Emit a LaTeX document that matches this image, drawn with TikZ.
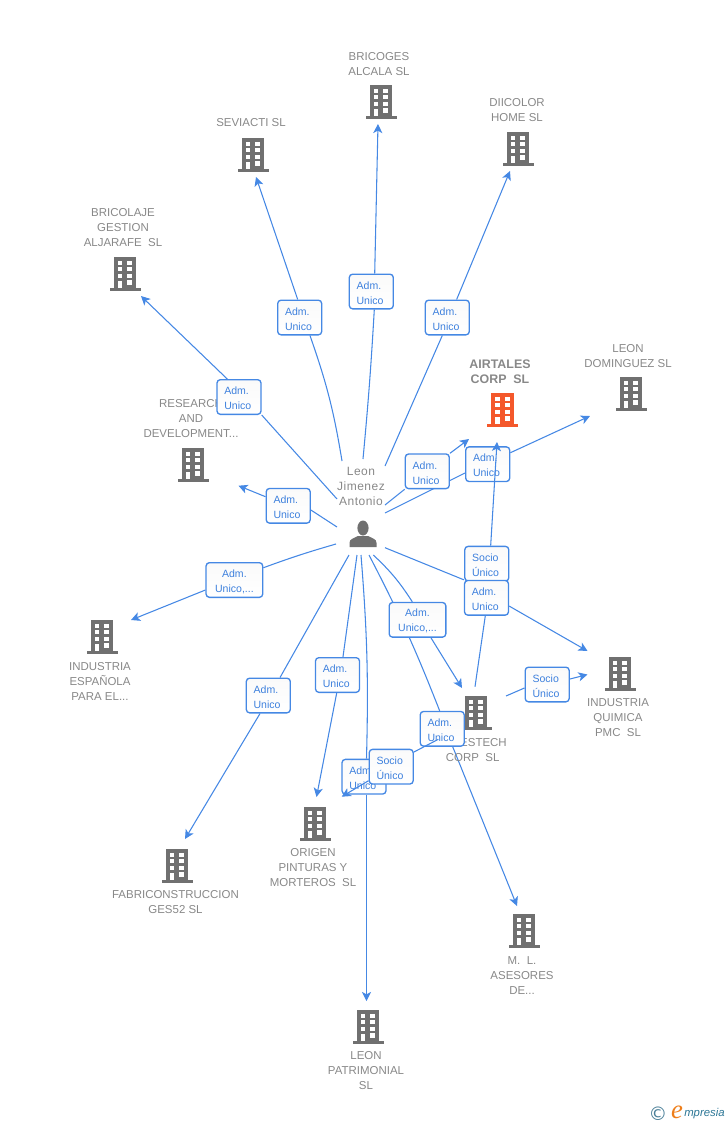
\documentclass[tikz,border=0pt]{standalone}
\usepackage{fontspec}
\setmainfont{Liberation Sans}
\newfontfamily\serifit{Liberation Serif}
\newfontfamily\dejav{DejaVu Sans}
\newfontfamily\spaced[LetterSpace=4]{Liberation Sans}
\usetikzlibrary{arrows.meta,backgrounds}
\pgfdeclarelayer{top}
\pgfsetlayers{background,main,top}
\definecolor{lnblue}{HTML}{4588E4}
\definecolor{txblue}{HTML}{3D80DD}
\definecolor{grey}{HTML}{888888}
\definecolor{icongrey}{HTML}{707070}
\definecolor{iconorange}{HTML}{F4582B}
\definecolor{boxtop}{HTML}{FAFAFA}
\definecolor{logoblue}{HTML}{4A7F98}
\definecolor{logoteal}{HTML}{2A7595}
\definecolor{logoorange}{HTML}{EE7E1A}
\tikzset{
  x=0.75pt,y=-0.75pt,
  building/.pic={
    \fill[#1] (-11.3,-17) rectangle (11.3,15);
    \fill[#1] (-15.5,14.2) rectangle (15.5,17);
    \foreach \yy in {-13.4,-6.8,-0.2}{\fill[white] (2.4,\yy) rectangle (7,\yy+4.2);}
    \fill[white] (2.4,6.4) rectangle (7,10.6);
    \foreach \yy in {-13.4,-6.8,-0.2}{\fill[white] (-7.4,\yy) rectangle (-2.8,\yy+4.2);}
    \fill[white] (-7.4,6.8) rectangle (-2.8,14.2);
  },
  personicon/.pic={
    \fill[icongrey] (0,-7) ellipse [x radius=5.6,y radius=7.5];
    \fill[icongrey] (-13.5,12) -- (-13.5,8) .. controls (-13.5,4) and (-10,3.5) .. (-5,1) -- (5,1) .. controls (10,3.5) and (13.5,4) .. (13.5,8) -- (13.5,12) -- cycle;
  },
  lab/.style={text=grey,font=\fontsize{8.6pt}{11.25pt}\selectfont,align=center,inner sep=0pt},
  boxn/.style={draw=lnblue,line width=1pt,top color=boxtop,bottom color=white,rounded corners=2.5pt,text=txblue,
    font=\fontsize{7.9pt}{11.25pt}\selectfont,inner xsep=5.5pt,inner ysep=0pt,
    text width=22pt,align=left,minimum height=26pt,
    execute at begin node={\rule{0pt}{8pt}}},
  boxw/.style={boxn,text width=31.5pt,align=center},
  edgeln/.style={draw=lnblue,line width=0.8pt},
  arr/.style={edgeln,-{Stealth[length=6.8pt,width=6.8pt,inset=1.8pt]}},
}
\begin{document}
\begin{tikzpicture}
\useasboundingbox (0,0) rectangle (728,1125);
% buildings
\pic at (381,102) {building=icongrey};
\pic at (253,155) {building=icongrey};
\pic at (518,149) {building=icongrey};
\pic at (125,274) {building=icongrey};
\pic at (193,465) {building=icongrey};
\pic at (502.5,410) {building=iconorange};
\pic at (631,394) {building=icongrey};
\pic at (102,637) {building=icongrey};
\pic at (620,674) {building=icongrey};
\pic at (476,713) {building=icongrey};
\pic at (315,824) {building=icongrey};
\pic at (177,866) {building=icongrey};
\pic at (524,931) {building=icongrey};
\pic at (368,1027) {building=icongrey};
\pic at (363,535) {personicon};
% labels
\node[lab] (lbricoges) at (379,64) {BRICOGES\\ALCALA SL};
\node[lab] (lseviacti) at (251,123) {SEVIACTI SL};
\node[lab] (ldiicolor) at (517,110) {DIICOLOR\\HOME SL};
\node[lab] (lbricolaje) at (123,228) {BRICOLAJE\\GESTION\\ALJARAFE~~SL};
\node[lab] (lresearch) at (191,419) {RESEARCH\\AND\\DEVELOPMENT...};
\node[lab,font=\fontsize{9.3pt}{11.25pt}\selectfont\bfseries] (lairtales) at (500,372) {AIRTALES\\CORP~~SL};
\node[lab] (lleond) at (628,356) {LEON\\DOMINGUEZ SL};
\node[lab] (lindesp) at (100,681) {INDUSTRIA\\ESPAÑOLA\\PARA EL...};
\node[lab] (lindq) at (618,718) {INDUSTRIA\\QUIMICA\\PMC~~SL};
\node[lab,align=right,anchor=east] (lestech) at (507,750) {ESTECH\\CORP~~SL\hspace*{5.5pt}};
\node[lab] (lorigen) at (313,868) {ORIGEN\\PINTURAS Y\\MORTEROS~~SL};
\node[lab] (lfabri) at (175.5,902) {FABRICONSTRUCCION\\GES52 SL};
\node[lab] (lml) at (522,976) {M.~~L.\\ASESORES\\DE...};
\node[lab] (lleonp) at (366,1071) {LEON\\PATRIMONIAL\\SL};
\node[lab,font=\fontsize{9pt}{11.25pt}\spaced] (lperson) at (361,486) {Leon\\Jimenez\\Antonio};
% boxes
\node[boxn] (b1) at (371.3,291.5) {Adm.\\Unico};
\node[boxn] (b2) at (299.7,317.5) {Adm.\\Unico};
\node[boxn] (b3) at (447.3,317.5) {Adm.\\Unico};
\node[boxn] (b4) at (239,397) {Adm.\\Unico};
\node[boxn] (b5) at (288.2,505.8) {Adm.\\Unico};
\node[boxn] (b6) at (427.3,471.3) {Adm.\\Unico};
\node[boxn] (b7) at (487.7,464.2) {Adm.\\Unico};
\node[boxw] (b8) at (234.4,580) {Adm.\\Unico,...};
\node[boxn] (b9) at (268.3,695.5) {Adm.\\Unico};
\node[boxn] (b10) at (337.5,675) {Adm.\\Unico};
\node[boxn] (b11) at (364,776.7) {Adm.\\Unico};
\node[boxw] (b12) at (417.5,619.8) {Adm.\\Unico,...};
\node[boxn] (b13) at (442.2,728.8) {Adm.\\Unico};
\node[boxn] (b15) at (486.8,563.7) {Socio\\Único};
\node[boxn] (b14) at (486.5,597.8) {Adm.\\Unico};
\node[boxn] (b16) at (547.2,684.5) {Socio\\Único};
\node[boxn] (b17) at (391.2,766.7) {Socio\\Único};
% free ends
\coordinate (s1) at (363,459);   \coordinate (e1) at (378,124);
\coordinate (s2) at (342,461);   \coordinate (e2) at (256,177);
\coordinate (s3) at (385,466);   \coordinate (e3) at (510,171);
\coordinate (s4) at (337,499);   \coordinate (e4) at (141,296);
\coordinate (s5) at (337,527);   \coordinate (e5) at (238.5,485.7);
\coordinate (s6) at (385,505);   \coordinate (e6) at (469,439);
\coordinate (s7) at (385,513);   \coordinate (e7) at (590,416);
\coordinate (s8) at (336,544);   \coordinate (e8) at (131,620);
\coordinate (s9) at (349,555);   \coordinate (e9) at (185,839);
\coordinate (s10) at (357,555);  \coordinate (e10) at (316.5,797);
\coordinate (s11) at (361,555);  \coordinate (e11) at (366.5,1001);
\coordinate (s12) at (369,555);  \coordinate (e12) at (462,688);
\coordinate (s13) at (373.3,555);\coordinate (e13) at (517,906);
\coordinate (s14) at (385,547.7);\coordinate (e14) at (587.5,651);
\coordinate (s15) at (475,686.7);\coordinate (e15) at (497,442);
\coordinate (s16) at (506,696);  \coordinate (e16) at (587.5,674.5);
\coordinate (s17) at (438.3,739.3);\coordinate (e17) at (341.7,796.7);
\begin{scope}[on background layer]
  \draw[edgeln] (s1) to[bend right=1] ([xshift=2.25pt]b1.south);   \draw[arr] ([xshift=2.55pt]b1.north) -- (e1);
  \draw[edgeln] (s2) to[bend right=5] ([xshift=7.7pt]b2.south);    \draw[arr] ([xshift=-1.5pt]b2.north) -- (e2);
  \draw[edgeln] (s3) -- ([xshift=-3.75pt]b3.south);                \draw[arr] ([xshift=7pt]b3.north) -- (e3);
  \draw[edgeln] (s4) -- (b4.south east);                           \draw[arr] ([xshift=-8.8pt]b4.north) -- (e4);
  \draw[edgeln] (s5) -- ([yshift=-3.15pt]b5.east);                 \draw[arr] ([yshift=6.8pt]b5.west) -- (e5);
  \draw[edgeln] (s6) -- (b6.south west);                           \draw[arr] (b6.north east) -- (e6);
  \draw[edgeln] (s7) -- ([yshift=-6.6pt]b7.west);                  \draw[arr] ([yshift=8.6pt]b7.east) -- (e7);
  \draw[edgeln] (s8) to[bend right=2] ([yshift=9.2pt]b8.east);     \draw[arr] ([yshift=-7.5pt]b8.west) -- (e8);
  \draw[edgeln] (s9) -- ([xshift=8.8pt]b9.north);                  \draw[arr] ([xshift=-6.2pt]b9.south) -- (e9);
  \draw[edgeln] (s10) -- ([xshift=4.1pt]b10.north);                \draw[arr] ([xshift=-0.6pt]b10.south) -- (e10);
  \draw[edgeln] (s11) to[bend left=3] ([xshift=1.875pt]b11.north); \draw[arr] ([xshift=1.875pt]b11.south) -- (e11);
  \draw[edgeln] (s13) to[bend left=7] ([xshift=-3.9pt]b12.north);  \draw[arr] ([xshift=10.1pt]b12.south) -- (e12);
  \draw[edgeln] (s12) to[bend left=3] ([xshift=-1.9pt]b13.north);  \draw[arr] ([xshift=7.9pt]b13.south) -- (e13);
  \draw[edgeln] (s14) -- (b14.north west);                         \draw[arr] ([yshift=-6.2pt]b14.east) -- (e14);
  \draw[edgeln] (s15) -- ([xshift=-0.9pt]b14.south);
  \draw[edgeln] (s16) -- ([yshift=-2.6pt]b16.west);                \draw[arr] ([yshift=4.1pt]b16.east) -- (e16);
\end{scope}
\begin{pgfonlayer}{top}
  \draw[arr] ([xshift=2.9pt]b15.north) -- (e15);
  \draw[edgeln] (s17) -- ([yshift=11pt]b17.east);
  \draw[arr] ([yshift=-10.5pt]b17.west) -- (e17);
\end{pgfonlayer}
% logo
\node[inner sep=0pt,text=logoblue,font=\fontsize{14pt}{14pt}\dejav] (lgc) at (658,1114) {©};
\node[inner sep=0pt,text=logoorange,font=\fontsize{20pt}{20pt}\serifit\itshape] (lge) at (677,1112) {e};
\node[inner sep=0pt,anchor=west,text=logoteal,font=\fontsize{8.5pt}{8.5pt}\selectfont\itshape] (lgm) at (684,1114) {mpresia};
\end{tikzpicture}
\end{document}
